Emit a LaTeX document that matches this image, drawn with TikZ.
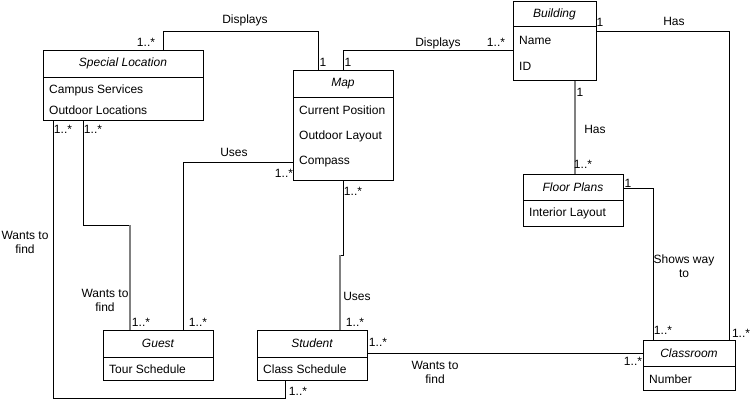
\documentclass[tikz,border=0pt]{standalone}
\usepackage{fontspec}
\setmainfont{Liberation Sans}
\usetikzlibrary{calc}
\begin{document}
\begin{tikzpicture}[x=1pt,y=-1pt,
  every node/.style={font=\fontsize{12}{14}\selectfont, inner sep=0pt},
  classbox/.style={draw=black, line width=0.8pt, fill=white, anchor=north west, rectangle},
  ctitle/.style={font=\fontsize{12}{14}\selectfont\itshape},
  attr/.style={anchor=west},
  lbl/.style={align=center},
  conn/.style={draw=black, line width=0.8pt},
  gconn/.style={draw=black!50, line width=1.3pt}
]
\useasboundingbox (0,0) rectangle (753,402);

% ---------- connectors ----------
\coordinate (slTop) at (163,50);
% classes first (positions)
\node[classbox, minimum width=160pt, minimum height=70pt] (sl) at (43,50) {};
\node[classbox, minimum width=100pt, minimum height=110pt] (map) at (293,70) {};
\node[classbox, minimum width=83pt, minimum height=79pt] (bld) at (513,1) {};
\node[classbox, minimum width=100pt, minimum height=52pt] (fp) at (523,174) {};
\node[classbox, minimum width=110pt, minimum height=50pt] (guest) at (103,330) {};
\node[classbox, minimum width=110pt, minimum height=50pt] (student) at (257,330) {};
\node[classbox, minimum width=92pt, minimum height=50pt] (cls) at (643,340) {};

% Special Location -- Map (Displays)
\draw[conn] ([xshift=120pt]sl.north west) -- ++(0,-19) -| ([xshift=25pt]map.north west);
% Map -- Building (Displays)
\draw[conn] ([xshift=50pt]map.north west) |- ([yshift=-49pt]bld.north west);
% Building -- Floor Plans (Has)
\draw[gconn] ([xshift=62pt]bld.south west) -- ([xshift=52pt]fp.north west);
% Building -- Classroom (Has)
\draw[conn] ([yshift=-30pt]bld.north east) -| ([xshift=86pt]cls.north west);
% Floor Plans -- Classroom (Shows way to)
\draw[conn] ([yshift=-14pt]fp.north east) -| ([xshift=10pt]cls.north west);
% Special Location -- Guest (Wants to find)
\draw[conn] ([xshift=40pt]sl.south west) -- ++(0,105) -| ([xshift=27pt]guest.north west);
\draw[gconn] ([xshift=27pt,yshift=105pt]guest.north west) -- ([xshift=27pt]guest.north west);
% Special Location -- Student (Wants to find)
\draw[conn] ([xshift=10pt]sl.south west) -- ++(0,278) -| ([xshift=28pt]student.south west);
% Map -- Guest (Uses)
\draw[conn] ([yshift=-92pt]map.north west) -| ([xshift=80pt]guest.north west);
% Map -- Student (Uses)
\draw[conn] ([xshift=50pt]map.south west) -- ++(0,75) -- ++(-3,0);
\draw[gconn] ([xshift=83pt,yshift=75pt]student.north west) -- ([xshift=83pt]student.north west);
% Student -- Classroom (Wants to find)
\draw[conn] ([yshift=-23pt]student.north east) -- ([yshift=-13pt]cls.north west);

% ---------- class contents ----------
% Special Location
\draw[conn] ([yshift=-27pt]sl.north west) -- ([yshift=-27pt]sl.north east);
\node[ctitle] (slT) at (123,63.5) {Special Location};
\node[attr] (slA) at (49,90) {Campus Services};
\node[attr] (slB) at (49,110) {Outdoor Locations};
% Map
\draw[conn] ([yshift=-27pt]map.north west) -- ([yshift=-27pt]map.north east);
\node[ctitle] (mapT) at (343,84) {Map};
\node[attr] (mapA) at (299,110) {Current Position};
\node[attr] (mapB) at (299,136) {Outdoor Layout};
\node[attr] (mapC) at (299,162) {Compass};
% Building
\draw[conn] ([yshift=-25pt]bld.north west) -- ([yshift=-25pt]bld.north east);
\node[ctitle] (bldT) at (554.5,14) {Building};
\node[attr] (bldA) at (519,40) {Name};
\node[attr] (bldB) at (519,66) {ID};
% Floor Plans
\draw[conn] ([yshift=-26pt]fp.north west) -- ([yshift=-26pt]fp.north east);
\node[ctitle] (fpT) at (573,187.5) {Floor Plans};
\node[attr] (fpA) at (529,213) {Interior Layout};
% Guest
\draw[conn] ([yshift=-27pt]guest.north west) -- ([yshift=-27pt]guest.north east);
\node[ctitle] (guT) at (158,343.5) {Guest};
\node[attr] (guA) at (109,369) {Tour Schedule};
% Student
\draw[conn] ([yshift=-27pt]student.north west) -- ([yshift=-27pt]student.north east);
\node[ctitle] (stT) at (312,343.5) {Student};
\node[attr] (stA) at (263,369) {Class Schedule};
% Classroom
\draw[conn] ([yshift=-26pt]cls.north west) -- ([yshift=-26pt]cls.north east);
\node[ctitle] (clT) at (689,353.5) {Classroom};
\node[attr] (clA) at (649,379) {Number};

% ---------- labels ----------
\node[lbl] (l1) at (245,20) {Displays};
\node[lbl] (l1a) at (146,42) {1..*};
\node[lbl] (l1b) at (323,62) {1};
\node[lbl] (l2) at (438,43) {Displays};
\node[lbl] (l2a) at (348,62) {1};
\node[lbl] (l2b) at (496,42) {1..*};
\node[lbl] (l3a) at (580,92) {1};
\node[lbl] (l3) at (595,129.5) {Has};
\node[lbl] (l3b) at (583,164) {1..*};
\node[lbl] (l4a) at (600,22) {1};
\node[lbl] (l4) at (674,21) {Has};
\node[lbl] (l4b) at (741,333) {1..*};
\node[lbl] (l5a) at (628,183) {1};
\node[lbl] (l5) at (684,266) {Shows way\\to};
\node[lbl] (l5b) at (663,330) {1..*};
\node[lbl] (l6a) at (93,129) {1..*};
\node[lbl] (l6) at (105,300) {Wants to\\find};
\node[lbl] (l6b) at (141,322) {1..*};
\node[lbl] (l7a) at (63,129) {1..*};
\node[lbl] (l7) at (25,242) {Wants to\\find};
\node[lbl] (l7b) at (298,391) {1..*};
\node[lbl] (l8) at (234,152) {Uses};
\node[lbl] (l8a) at (284,173) {1..*};
\node[lbl] (l8b) at (198,322) {1..*};
\node[lbl] (l9a) at (353,191) {1..*};
\node[lbl] (l9) at (357,296) {Uses};
\node[lbl] (l9b) at (355,322) {1..*};
\node[lbl] (l10a) at (378,342) {1..*};
\node[lbl] (l10) at (435,372) {Wants to\\find};
\node[lbl] (l10b) at (633,361) {1..*};
\end{tikzpicture}
\end{document}
